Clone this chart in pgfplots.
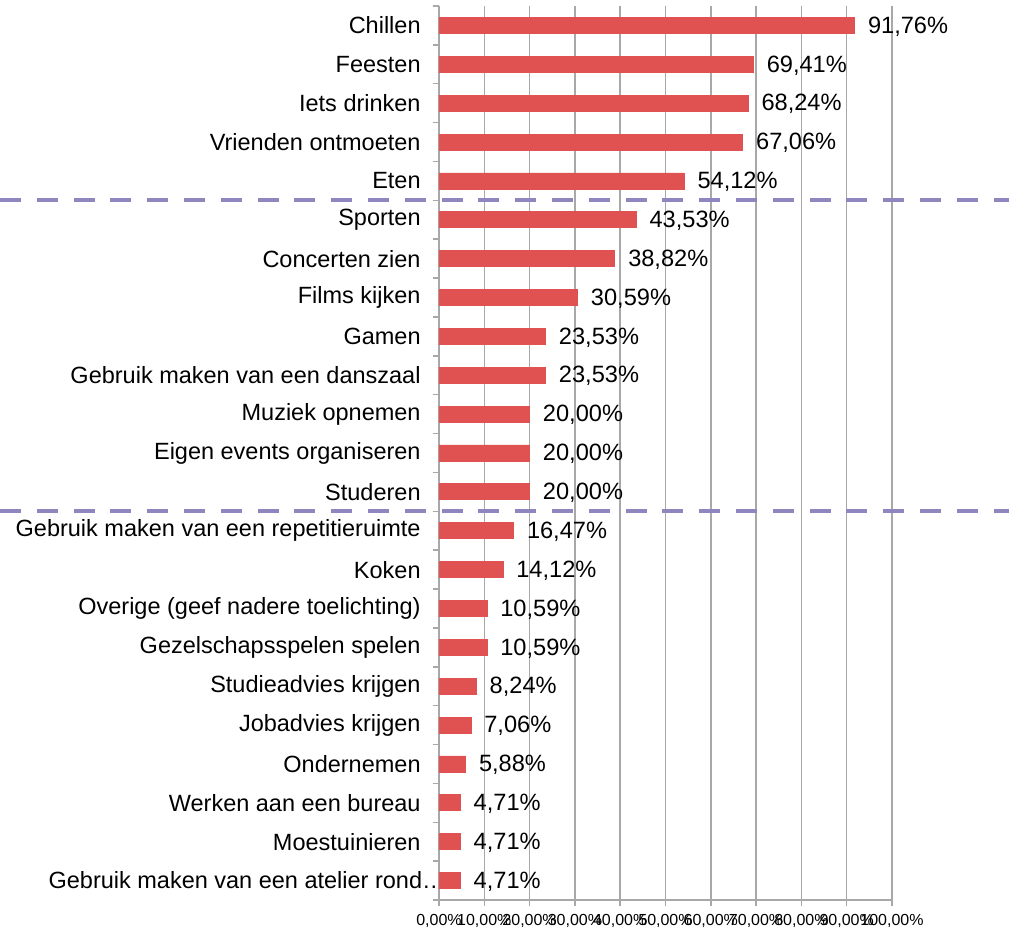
\documentclass[border=0pt]{standalone}
\usepackage{fontspec}
\setmainfont{Liberation Sans}
\usepackage{pgfplots}
\pgfplotsset{compat=1.18}
\usepackage{pgfplotstable}
\definecolor{barred}{RGB}{224,82,82}
\definecolor{gridgray}{RGB}{168,168,168}
\definecolor{dashcol}{RGB}{143,134,192}
\pgfplotstableread{
y x
0 91.76
1 69.41
2 68.24
3 67.06
4 54.12
5 43.53
6 38.82
7 30.59
8 23.53
9 23.53
10 20.00
11 20.00
12 20.00
13 16.47
14 14.12
15 10.59
16 10.59
17 8.24
18 7.06
19 5.88
20 4.71
21 4.71
22 4.71
}\datatable
\begin{document}
\begin{tikzpicture}
\path[use as bounding box] (0,0) rectangle (504.5pt,465pt);
\begin{axis}[
  at={(219.5pt,15pt)}, anchor=south west,
  scale only axis, width=226.5pt, height=447pt,
  xmin=0, xmax=100, ymin=-0.5, ymax=22.5, y dir=reverse,
  clip=false,
  axis x line*=bottom, axis y line*=left,
  axis line style={-, draw=gridgray, line width=0.75pt},
  xtick={0,10,...,100},
  xticklabels={{0,00\%},{10,00\%},{20,00\%},{30,00\%},{40,00\%},{50,00\%},{60,00\%},{70,00\%},{80,00\%},{90,00\%},{100,00\%}},
  xticklabel style={font=\fontsize{8}{9}\selectfont, inner sep=0pt, anchor=north, yshift=-4pt},
  xmajorgrids, grid style={gridgray, line width=0.75pt},
  tick align=outside, major tick length=3pt, minor tick length=3pt,
  major x tick style={gridgray, line width=0.75pt},
  ytick={0,...,22},
  major y tick style={draw=none},
  minor ytick={-0.5,0.5,...,22.5},
  minor y tick style={gridgray, line width=0.75pt},
  yticklabels={Chillen,Feesten,Iets drinken,Vrienden ontmoeten,Eten,Sporten,Concerten zien,Films kijken,Gamen,Gebruik maken van een danszaal,Muziek opnemen,Eigen events organiseren,Studeren,Gebruik maken van een repetitieruimte,Koken,Overige (geef nadere toelichting),Gezelschapsspelen spelen,Studieadvies krijgen,Jobadvies krijgen,Ondernemen,Werken aan een bureau,Moestuinieren,{\makebox[186pt][l]{Gebruik maken van een atelier rond…}}},
  yticklabel style={font=\fontsize{11.75}{13}\selectfont, inner sep=0pt, anchor=east, xshift=-6pt},
  /pgf/number format/assume math mode=true,
]
\addplot[xbar, bar width=8pt, fill=barred, draw=barred,
  nodes near coords={\pgfmathprintnumber[fixed, fixed zerofill, precision=2, use comma]{\pgfplotspointmeta}\%},
  nodes near coords align={horizontal},
  every node near coord/.append style={font=\fontsize{11.8}{13}\selectfont, black, anchor=west, inner sep=0pt, xshift=6.5pt, yshift=-0.5pt},
  point meta=x] table[x=x, y=y] {\datatable};
\coordinate (d1) at (axis cs:0,4.5);
\coordinate (d2) at (axis cs:0,12.5);
\end{axis}
\draw[dashcol, line width=2pt, dash pattern=on 10.5pt off 7.9pt] (0,0 |- d1) -- (504.5pt,0 |- d1);
\draw[dashcol, line width=2pt, dash pattern=on 10.5pt off 7.9pt] (0,0 |- d2) -- (504.5pt,0 |- d2);
\end{tikzpicture}
\end{document}
